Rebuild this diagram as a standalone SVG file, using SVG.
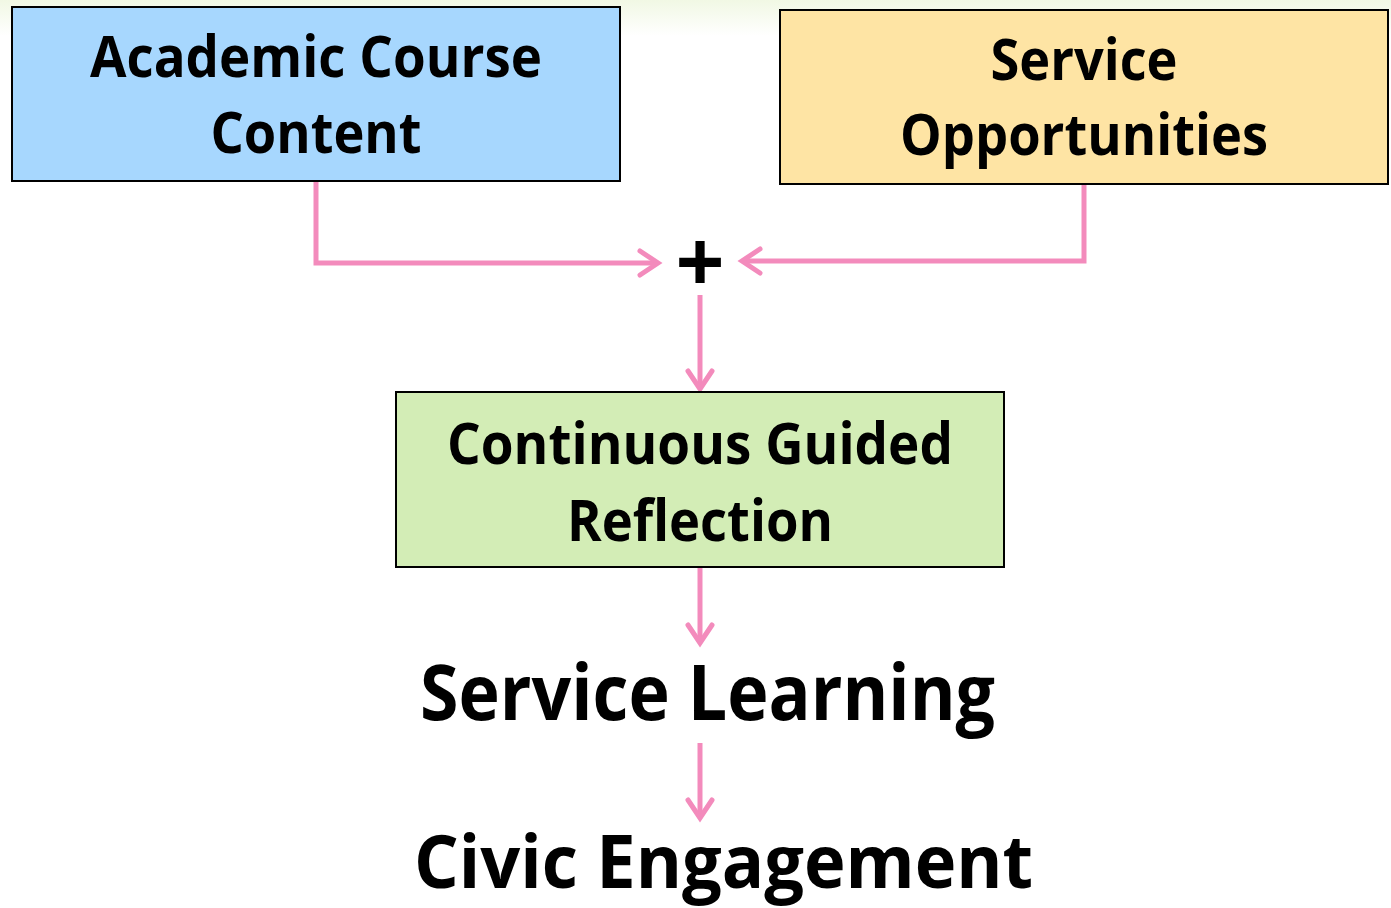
<svg xmlns="http://www.w3.org/2000/svg" width="1391" height="908" viewBox="0 0 1391 908">
  <style>
    .box { stroke: #000000; stroke-width: 2; }
    .lbl { font-family: "Open Sans", "Liberation Sans", sans-serif; font-weight: 700; fill: #000000; text-anchor: middle; }
    .conn { fill: none; stroke: #F38BBC; stroke-width: 5; stroke-linejoin: miter; }
  </style>
  <defs>
    <linearGradient id="topfade" x1="0" y1="0" x2="0" y2="1">
      <stop offset="0" stop-color="#F1F8E4"/>
      <stop offset="1" stop-color="#FFFFFF"/>
    </linearGradient>
    <marker id="chev" markerUnits="userSpaceOnUse" viewBox="-20 -14 24 28" refX="0" refY="0" markerWidth="24" markerHeight="28" orient="auto" overflow="visible">
      <path d="M-18,-12 L0,0 L-18,12" fill="none" stroke="#F38BBC" stroke-width="5" stroke-linecap="round" stroke-linejoin="miter"/>
    </marker>
  </defs>
  <rect x="0" y="0" width="1391" height="908" fill="#FFFFFF"/>
  <rect x="0" y="0" width="1391" height="36" fill="url(#topfade)"/>

  <g id="connectors">
    <path class="conn" d="M316,181 V263 H658" marker-end="url(#chev)"/>
    <path class="conn" d="M1084,184 V261 H742" marker-end="url(#chev)"/>
    <path class="conn" d="M700,295 V389" marker-end="url(#chev)"/>
    <path class="conn" d="M700,567 V643" marker-end="url(#chev)"/>
    <path class="conn" d="M700,743 V818" marker-end="url(#chev)"/>
  </g>

  <g id="academic">
    <rect class="box" x="12" y="7" width="608" height="174" fill="#A7D7FE"/>
    <text class="lbl" x="316" y="77" font-size="57" textLength="452" lengthAdjust="spacingAndGlyphs">Academic Course</text>
    <text class="lbl" x="316" y="153" font-size="57" textLength="211" lengthAdjust="spacingAndGlyphs">Content</text>
  </g>

  <g id="service">
    <rect class="box" x="780" y="10" width="608" height="174" fill="#FEE4A4"/>
    <text class="lbl" x="1084" y="80" font-size="57" textLength="187" lengthAdjust="spacingAndGlyphs">Service</text>
    <text class="lbl" x="1084" y="155" font-size="57" textLength="368" lengthAdjust="spacingAndGlyphs">Opportunities</text>
  </g>

  <g id="plus">
    <text class="lbl" x="700" y="293" font-size="86">+</text>
  </g>

  <g id="reflection">
    <rect class="box" x="396" y="392" width="608" height="175" fill="#D3EDB6"/>
    <text class="lbl" x="700" y="464" font-size="57" textLength="506" lengthAdjust="spacingAndGlyphs">Continuous Guided</text>
    <text class="lbl" x="700" y="541" font-size="57" textLength="266" lengthAdjust="spacingAndGlyphs">Reflection</text>
  </g>

  <g id="service-learning">
    <text class="lbl" x="707.5" y="720" font-size="77" textLength="575" lengthAdjust="spacingAndGlyphs">Service Learning</text>
  </g>

  <g id="civic-engagement">
    <text class="lbl" x="723.5" y="888" font-size="74" textLength="619" lengthAdjust="spacingAndGlyphs">Civic Engagement</text>
  </g>
</svg>
